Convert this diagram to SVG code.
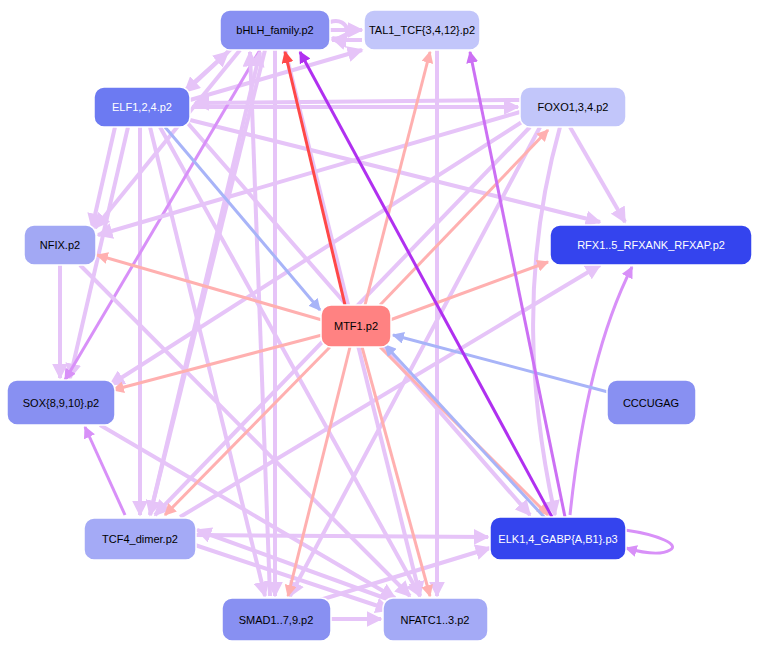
<svg xmlns="http://www.w3.org/2000/svg" width="759" height="650" viewBox="0 0 759 650">
<defs>
<marker id="mp" viewBox="0 0 10 10" refX="9" refY="5" markerWidth="4" markerHeight="4" orient="auto" markerUnits="strokeWidth"><path d="M0,0L10,5L0,10z" fill="#e6c4f8"/></marker>
<marker id="mm" viewBox="0 0 10 10" refX="9" refY="5" markerWidth="4" markerHeight="4" orient="auto" markerUnits="strokeWidth"><path d="M0,0L10,5L0,10z" fill="#d890f8"/></marker>
<marker id="ms" viewBox="0 0 10 10" refX="9" refY="5" markerWidth="4" markerHeight="4" orient="auto" markerUnits="strokeWidth"><path d="M0,0L10,5L0,10z" fill="#ffb0b0"/></marker>
<marker id="mr" viewBox="0 0 10 10" refX="9" refY="5" markerWidth="4" markerHeight="4" orient="auto" markerUnits="strokeWidth"><path d="M0,0L10,5L0,10z" fill="#ff4848"/></marker>
<marker id="mb" viewBox="0 0 10 10" refX="9" refY="5" markerWidth="4" markerHeight="4" orient="auto" markerUnits="strokeWidth"><path d="M0,0L10,5L0,10z" fill="#a8b4f8"/></marker>
<marker id="mv" viewBox="0 0 10 10" refX="9" refY="5" markerWidth="4" markerHeight="4" orient="auto" markerUnits="strokeWidth"><path d="M0,0L10,5L0,10z" fill="#b030f0"/></marker>
<marker id="mw" viewBox="0 0 10 10" refX="9" refY="5" markerWidth="4" markerHeight="4" orient="auto" markerUnits="strokeWidth"><path d="M0,0L10,5L0,10z" fill="#cc70f4"/></marker>
</defs>
<style>
.e{fill:none;stroke:#e6c4f8;stroke-width:4;marker-end:url(#mp)}
.m{fill:none;stroke:#d890f8;stroke-width:3;marker-end:url(#mm)}
.s{fill:none;stroke:#ffb0b0;stroke-width:3;marker-end:url(#ms)}
.b{fill:none;stroke:#a8b4f8;stroke-width:3;marker-end:url(#mb)}
.n rect{stroke:#fff;stroke-width:1.5}
.n text{font-family:"Liberation Sans",Arial,sans-serif;font-size:11px;text-anchor:middle}
.w text{fill:#fff}
</style>
<rect width="759" height="650" fill="#fff"/>
<g id="edges">
<path class="e" d="M180,95L228,52"/><path class="e" d="M232,48L185,92"/>
<path class="e" d="M190,100L362,50"/>
<path class="e" d="M192,107L518,107"/>
<path class="e" d="M190,120L600,222"/>
<path class="e" d="M115,127L92,228"/>
<path class="e" stroke-width="5" d="M128,127L70,378"/>
<path class="e" stroke-width="6" d="M140,127L140,515"/>
<path class="e" d="M150,127L265,596"/>
<path class="e" d="M160,127L420,596"/>
<path class="e" d="M185,120L530,515"/>
<path class="e" d="M330,22C350,15 355,45 332,38"/>
<path class="e" d="M330,30L362,30"/><path class="e" d="M362,40L332,40"/>
<path class="m" stroke-width="4" d="M260,50L65,380"/>
<path class="e" d="M240,50L95,228"/>
<path class="e" stroke-width="5" d="M265,50L150,515"/>
<path class="e" stroke-width="5" d="M275,50L275,596"/>
<path class="e" d="M285,50L420,596"/>
<path class="e" d="M437,50L437,596"/>
<path class="e" d="M570,127L625,222"/>
<path class="e" d="M520,112L98,235"/>
<path class="e" d="M525,120L110,385"/>
<path class="e" d="M530,127L155,515"/>
<path class="e" d="M520,100L195,103"/>
<path class="e" stroke-width="6" d="M560,127C520,270 530,400 555,515"/>
<path class="e" d="M540,127L290,596"/>
<path class="e" d="M60,265L60,378"/>
<path class="e" d="M80,265L410,596"/>
<path class="m" d="M125,515L85,427"/>
<path class="e" d="M195,535L488,537"/>
<path class="e" d="M195,545L390,610"/>
<path class="e" d="M150,515L260,52"/>
<path class="e" d="M180,517L600,265"/>
<path class="e" d="M330,619L381,619"/>
<path class="e" d="M320,600L490,548"/>
<path class="e" d="M270,596L250,52"/>
<path class="e" d="M100,425L395,598"/>
<path class="e" d="M390,600L197,530"/>
<path class="m" d="M570,515C580,420 600,330 632,267"/>
<path class="m" d="M625,530C660,535 680,545 670,550C660,556 640,552 626,548"/>
<path class="s" d="M322,320L97,255"/>
<path class="s" d="M322,335L113,390"/>
<path class="s" d="M330,347L165,515"/>
<path class="s" d="M350,347L288,596"/>
<path class="s" d="M362,347L430,596"/>
<path class="s" d="M380,347L548,515"/>
<path class="s" d="M390,320L548,262"/>
<path class="s" d="M380,305L548,130"/>
<path class="s" d="M365,305L430,52"/>
<path fill="none" stroke="#ff4848" stroke-width="3" marker-end="url(#mr)" d="M345,305L285,52"/>
<path class="b" d="M165,127L320,310"/>
<path class="b" d="M608,392L393,335"/>
<path class="b" d="M545,518L385,345"/>
<path fill="none" stroke="#b030f0" stroke-width="3" marker-end="url(#mv)" d="M552,517L300,52"/>
<path fill="none" stroke="#cc70f4" stroke-width="3" marker-end="url(#mw)" d="M565,517L470,52"/>
</g>
<g id="bHLH" class="n"><rect x="220" y="10" width="110" height="40" rx="10" fill="#8890f2"/><text x="275" y="34">bHLH_family.p2</text></g>
<g id="TAL1" class="n"><rect x="364" y="10" width="116" height="40" rx="10" fill="#c2c6fa"/><text x="422" y="34">TAL1_TCF{3,4,12}.p2</text></g>
<g id="ELF" class="n w"><rect x="94" y="87" width="96" height="40" rx="10" fill="#6c7af2"/><text x="142" y="111">ELF1,2,4.p2</text></g>
<g id="FOXO" class="n"><rect x="520" y="87" width="106" height="40" rx="10" fill="#c2c6fa"/><text x="573" y="111">FOXO1,3,4.p2</text></g>
<g id="NFIX" class="n"><rect x="24" y="225" width="72" height="40" rx="10" fill="#a2a8f4"/><text x="60" y="249">NFIX.p2</text></g>
<g id="RFX" class="n w"><rect x="550" y="225" width="202" height="40" rx="10" fill="#3444ee"/><text x="651" y="249">RFX1..5_RFXANK_RFXAP.p2</text></g>
<g id="MTF1" class="n"><rect x="321" y="305" width="70" height="42" rx="10" fill="#ff8282"/><text x="356" y="330">MTF1.p2</text></g>
<g id="SOX" class="n"><rect x="7" y="380" width="108" height="45" rx="10" fill="#8890f2"/><text x="61" y="407">SOX{8,9,10}.p2</text></g>
<g id="CCCUGAG" class="n"><rect x="607" y="380" width="89" height="45" rx="10" fill="#8890f2"/><text x="651" y="407">CCCUGAG</text></g>
<g id="TCF4" class="n"><rect x="84" y="518" width="112" height="42" rx="10" fill="#a4aaf6"/><text x="140" y="543">TCF4_dimer.p2</text></g>
<g id="ELK" class="n w"><rect x="490" y="517" width="136" height="43" rx="10" fill="#3444ee"/><text x="558" y="543">ELK1,4_GABP{A,B1}.p3</text></g>
<g id="SMAD" class="n"><rect x="222" y="598" width="109" height="43" rx="10" fill="#8890f2"/><text x="276" y="624">SMAD1..7,9.p2</text></g>
<g id="NFATC" class="n"><rect x="383" y="598" width="105" height="43" rx="10" fill="#a4aaf6"/><text x="435" y="624">NFATC1..3.p2</text></g>
</svg>
